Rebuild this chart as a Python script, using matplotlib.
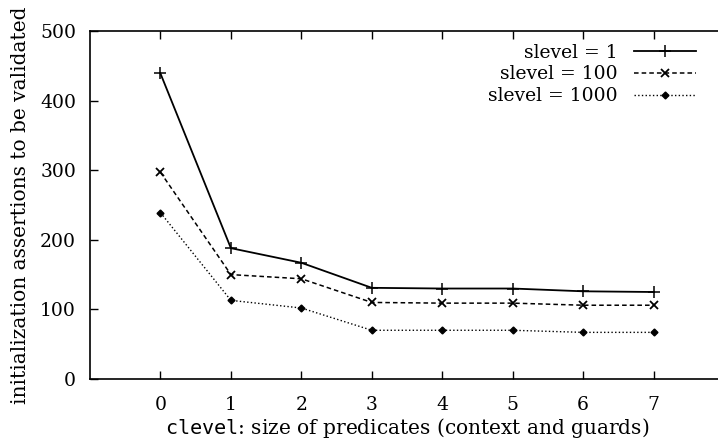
import numpy as np
import matplotlib
matplotlib.use('Agg')
import matplotlib.pyplot as plt

plt.rcParams['font.family'] = ['DejaVu Serif']
plt.rcParams['mathtext.fontset'] = 'custom'
plt.rcParams['mathtext.tt'] = 'DejaVu Sans Mono'

clevel = [0, 1, 2, 3, 4, 5, 6, 7]
slevel_1 = [439, 188, 167, 131, 130, 130, 126, 125]
slevel_100 = [297, 150, 144, 110, 109, 109, 106, 106]
slevel_1000 = [239, 113, 102, 70, 70, 70, 67, 67]
y_ticks = [0, 100, 200, 300, 400, 500]

fig = plt.figure(figsize=(7.18, 4.46), dpi=100)
ax = fig.add_axes([90 / 718, 1 - 379 / 446, 634 / 718, 348 / 446])

ax.plot(clevel, slevel_1, '-', color='black', linewidth=1.3, marker='+',
        markersize=8, markeredgewidth=1.1, label='slevel = 1')
ax.plot(clevel, slevel_100, '--', color='black', linewidth=1.1, marker='x',
        markersize=6, markeredgewidth=1.3, dashes=(3, 2), label='slevel = 100')
ax.plot(clevel, slevel_1000, ':', color='black', linewidth=1.0, marker='D',
        markersize=3.5, label='slevel = 1000')

ax.set_xlim(-1, 8)
ax.set_ylim(0, 500)
ax.set_xticks(clevel)
ax.set_yticks(y_ticks)
ax.tick_params(direction='in', length=6, width=1, labelsize=13.5,
               top=True, right=False)
ax.tick_params(axis='x', pad=12)
ax.tick_params(axis='y', pad=10)
for s in ax.spines.values():
    s.set_linewidth(1.2)

ax.set_xlabel(r'$\mathtt{clevel}$: size of predicates (context and guards)',
              fontsize=14.5, labelpad=2)
ax.set_ylabel('initialization assertions to be validated', fontsize=14.5,
              labelpad=7)

ax.legend(loc='upper right', bbox_to_anchor=(0.968, 0.985),
          frameon=False, markerfirst=False, fontsize=13.5, handlelength=3.3,
          labelspacing=0.2, handletextpad=0.9, borderaxespad=0)

plt.savefig('out.png', dpi=100)
plt.close()
